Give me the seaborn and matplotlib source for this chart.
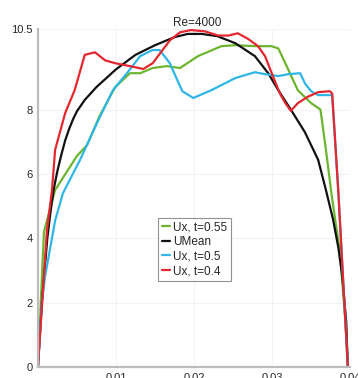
import pandas as pd
import numpy as np
import matplotlib.pyplot as plt
import seaborn as sns

######################################## data ########################################
green_x = [0, 0.00077, 0.0022, 0.005, 0.0063, 0.0079, 0.0099, 0.0118, 0.0131, 0.0147, 0.0165, 0.0182,
           0.0205, 0.0235, 0.0253, 0.0278, 0.0299, 0.0308, 0.0321, 0.0333, 0.035, 0.0362, 0.0369, 0.0376,
           0.0387, 0.0394, 0.0397]
green_y = [0, 4.2, 5.5, 6.56, 6.9, 7.8, 8.7, 9.13, 9.13, 9.29, 9.35, 9.29,
           9.66, 9.97, 10.0, 9.97, 9.97, 9.9, 9.23, 8.6, 8.2, 8.0, 6.75, 5.4,
           3.56, 1.4, 0.05]

mean_x = [0, 0.0005, 0.0012, 0.0016, 0.002, 0.0025, 0.003, 0.0035, 0.004, 0.0045, 0.005, 0.006,
          0.0075, 0.01, 0.0125, 0.015, 0.0175, 0.0192, 0.021, 0.023, 0.0253, 0.0278, 0.0295, 0.0308,
          0.0324, 0.0342, 0.0359, 0.0369, 0.0378, 0.0385, 0.039, 0.0395, 0.0397]
mean_y = [0, 2.0, 4.0, 4.8, 5.5, 6.1, 6.6, 7.05, 7.4, 7.7, 7.95, 8.3,
          8.7, 9.25, 9.7, 10.0, 10.25, 10.35, 10.35, 10.28, 10.06, 9.66, 9.13, 8.6,
          8.0, 7.3, 6.44, 5.5, 4.6, 3.7, 2.8, 1.4, 0.05]

blue_x = [0, 0.0005, 0.0009, 0.0022, 0.0032, 0.0054, 0.0076, 0.0096, 0.0114, 0.0131, 0.0147, 0.0156,
          0.0169, 0.0177, 0.0185, 0.0199, 0.0222, 0.0253, 0.0278, 0.0291, 0.0308, 0.0321, 0.0336,
          0.0342, 0.035, 0.0359, 0.0374, 0.0377, 0.0385, 0.0397]
blue_y = [0, 2.0, 2.8, 4.55, 5.4, 6.44, 7.6, 8.6, 9.13, 9.66, 9.85, 9.85,
          9.44, 9.0, 8.57, 8.36, 8.6, 8.98, 9.16, 9.1, 9.04, 9.1, 9.13,
          8.82, 8.57, 8.45, 8.45, 8.45, 5.4, 0.05]

red_x = [0, 0.00115, 0.0018, 0.0022, 0.0035, 0.0047, 0.006, 0.0073, 0.0086, 0.0099, 0.0118, 0.0135,
         0.0147, 0.0169, 0.0182, 0.0196, 0.0214, 0.0231, 0.0244, 0.0256, 0.0269, 0.0282, 0.0291,
         0.0301, 0.031, 0.0317, 0.0324, 0.0333, 0.0346, 0.0359, 0.0374, 0.0377, 0.0385, 0.0397]
red_y = [0, 4.25, 5.5, 6.75, 7.9, 8.6, 9.7, 9.78, 9.53, 9.44, 9.35, 9.26,
         9.44, 10.15, 10.4, 10.47, 10.43, 10.3, 10.3, 10.37, 10.2, 9.97, 9.66,
         9.04, 8.5, 8.2, 7.96, 8.2, 8.4, 8.54, 8.57, 8.5, 5.4, 0.05]

labels = ['Ux, t=0.55', 'UMean', 'Ux, t=0.5', 'Ux, t=0.4']
colors = ['#6cb52f', '#111111', '#2fb6e6', '#e4272f']
y_ticks = [0, 2, 4, 6, 8, 10.5]
y_ticklabels = ['0', '2', '4', '6', '8', '10.5']
x_ticks = [0.01, 0.02, 0.03, 0.04]
x_ticklabels = ['0.01', '0.02', '0.03', '0.04']

######################################## plot ########################################
sns.set_style('white')
plt.rcParams['font.family'] = ['Liberation Sans', 'DejaVu Sans']

fig = plt.figure(figsize=(3.58, 3.78), dpi=100)
ax = fig.add_axes([0.106, 0.029, 0.872, 0.894])

series = [(green_x, green_y), (mean_x, mean_y), (blue_x, blue_y), (red_x, red_y)]
for (xs, ys), lab, col in zip(series, labels, colors):
    df = pd.DataFrame({'x': xs, 'y': ys})
    sns.lineplot(data=df, x='x', y='y', sort=False, color=col, linewidth=1.6, label=lab, ax=ax)

ax.set_xlim(0, 0.04)
ax.set_ylim(0, 10.5)
ax.set_xticks(x_ticks)
ax.set_xticklabels(x_ticklabels)
ax.set_yticks(y_ticks)
ax.set_yticklabels(y_ticklabels)
ax.set_xlabel('')
ax.set_ylabel('')
ax.grid(True, color='#f2f2f2', linewidth=0.8)
ax.tick_params(axis='both', labelsize=8, length=2.5, width=0.8, color='#aaaaaa', pad=1.5)

for side in ['top', 'right']:
    ax.spines[side].set_visible(False)
for side in ['left', 'bottom']:
    ax.spines[side].set_color('#bbbbbb')
    ax.spines[side].set_linewidth(1.6)

ax.set_title('Re=4000', fontsize=8.5, pad=2, x=0.51)

leg = ax.legend(loc='upper left', bbox_to_anchor=(0.385, 0.442), borderaxespad=0,
                fontsize=8.5, handlelength=0.7, handletextpad=0.25, labelspacing=0.22,
                borderpad=0.3, frameon=True, fancybox=False)
leg.get_frame().set_edgecolor('#777777')
leg.get_frame().set_linewidth(0.8)

plt.savefig('out.png', dpi=100)
